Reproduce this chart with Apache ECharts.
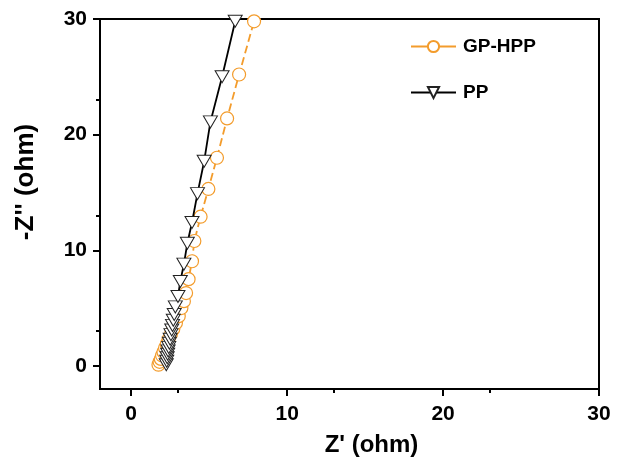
<!DOCTYPE html>
<html>
<head>
<meta charset="utf-8">
<script src="https://cdn.jsdelivr.net/npm/echarts@6/dist/echarts.min.js"></script>
<style>html,body{margin:0;padding:0;background:#fff}#c{width:619px;height:463px}</style>
</head>
<body>
<div id="c"></div>
<script>
const gpX = [1.75, 1.82, 1.9, 1.98, 2.07, 2.17, 2.28, 2.4, 2.55, 2.7, 2.87, 3.05, 3.22, 3.38, 3.52, 3.68, 3.9, 4.05, 4.45, 4.95, 5.5, 6.15, 6.92, 7.88];
const gpY = [0.1, 0.35, 0.6, 0.9, 1.2, 1.55, 1.9, 2.3, 2.75, 3.2, 3.7, 4.3, 5.0, 5.6, 6.3, 7.5, 9.05, 10.8, 12.9, 15.3, 18.0, 21.4, 25.2, 29.8];
const ppX = [2.25, 2.28, 2.31, 2.34, 2.37, 2.41, 2.45, 2.5, 2.55, 2.6, 2.65, 2.7, 2.76, 2.83, 3.0, 3.15, 3.38, 3.6, 3.9, 4.25, 4.68, 5.08, 5.83, 6.67];
const ppY = [0.1, 0.4, 0.7, 1.0, 1.3, 1.6, 1.95, 2.3, 2.7, 3.1, 3.5, 3.95, 4.45, 5.1, 6.0, 7.3, 8.8, 10.6, 12.4, 14.9, 17.7, 21.1, 25.0, 29.8];
const xTicks = [0, 10, 20, 30];
const yTicks = [0, 10, 20, 30];

const zip = (a, b) => a.map((v, i) => [v, b[i]]);
const orange = '#F39C2C';
const font = 'Liberation Sans, Arial, sans-serif';
const tri = 'path://M0,0 L12,0 L6,10 Z';

const chart = echarts.init(document.getElementById('c'), null, {renderer: 'canvas'});
chart.setOption({
  animation: false,
  backgroundColor: '#fff',
  grid: {left: 100, right: 20, top: 19, bottom: 74, show: true, borderColor: '#000', borderWidth: 2, backgroundColor: 'transparent'},
  legend: {
    orient: 'vertical', left: 405, top: 32, itemWidth: 45, itemHeight: 14, itemGap: 27,
    lineStyle: {type: 'solid'},
    textStyle: {fontFamily: font, fontWeight: 'bold', fontSize: 19, color: '#000', padding: [0, 0, 0, 2]},
    data: ['GP-HPP', 'PP']
  },
  xAxis: {
    type: 'value', min: -2, max: 30, interval: 10,
    name: "Z' (ohm)", nameLocation: 'middle', nameGap: 44,
    nameTextStyle: {fontFamily: font, fontWeight: 'bold', fontSize: 24, color: '#000', padding: [0, 0, 0, 44]},
    axisLine: {onZero: false, lineStyle: {color: '#000', width: 2}},
    axisTick: {show: true, length: 7, lineStyle: {width: 2, color: '#000'}, customValues: xTicks},
    minorTick: {show: true, splitNumber: 2, length: 4, lineStyle: {width: 2, color: '#000'}},
    axisLabel: {fontFamily: font, fontWeight: 'bold', fontSize: 21, color: '#000', margin: 15, customValues: xTicks},
    splitLine: {show: false}
  },
  yAxis: {
    type: 'value', min: -2, max: 30, interval: 10,
    name: "-Z'' (ohm)", nameLocation: 'middle', nameGap: 61,
    nameTextStyle: {fontFamily: font, fontWeight: 'bold', fontSize: 26, color: '#000', padding: [0, 0, 0, 44]},
    axisLine: {onZero: false, lineStyle: {color: '#000', width: 2}},
    axisTick: {show: true, length: 7, lineStyle: {width: 2, color: '#000'}, customValues: yTicks},
    minorTick: {show: true, splitNumber: 2, length: 4, lineStyle: {width: 2, color: '#000'}},
    axisLabel: {fontFamily: font, fontWeight: 'bold', fontSize: 21, color: '#000', margin: 13, customValues: yTicks},
    splitLine: {show: false}
  },
  series: [
    {
      name: 'GP-HPP', type: 'line', data: zip(gpX, gpY),
      symbol: 'circle', symbolSize: 13,
      lineStyle: {color: orange, width: 1.8, type: [8, 4]},
      itemStyle: {color: '#fff', borderColor: orange, borderWidth: 1.2},
      z: 2
    },
    {
      name: 'PP', type: 'line', data: zip(ppX, ppY),
      symbol: tri, symbolSize: [14, 12],
      lineStyle: {color: '#000', width: 1.8},
      itemStyle: {color: '#fff', borderColor: '#222', borderWidth: 1},
      z: 3
    }
  ]
});
</script>
</body>
</html>
